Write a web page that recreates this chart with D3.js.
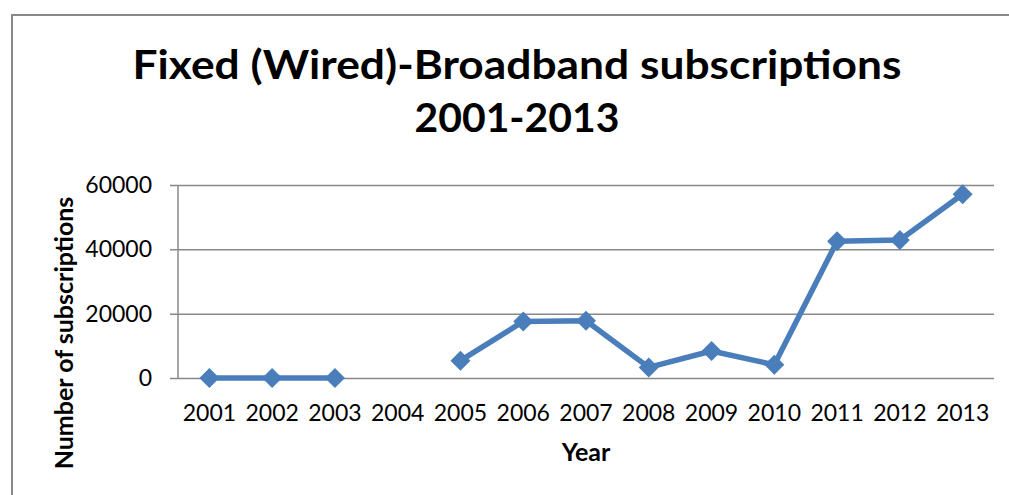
<!DOCTYPE html>
<html><head><meta charset="utf-8">
<script src="https://cdn.jsdelivr.net/npm/d3@7/dist/d3.min.js"></script>
<style>body{margin:0;background:#fff}svg{display:block}</style>
</head><body>
<svg id="chart" width="1009" height="495"></svg>
<script>
const years = ["2001","2002","2003","2004","2005","2006","2007","2008","2009","2010","2011","2012","2013"];
const subscriptions = [0, 0, 0, null, 5400, 17600, 17800, 3300, 8400, 4100, 42500, 42900, 57100];
const yTicks = [0, 20000, 40000, 60000];
const titleLines = ["Fixed (Wired)-Broadband subscriptions", "2001-2013"];
const xTitle = "Year";
const yTitle = "Number of subscriptions";

(function () {
const svg = d3.select("#chart");
const pLeft = 178, pRight = 994, pTop = 185, pBottom = 378;

svg.append("rect").attr("x", 12).attr("y", 15).attr("width", 1020).attr("height", 500)
  .attr("fill", "#fff").attr("stroke", "#888").attr("stroke-width", 2);

const x = d3.scaleBand().domain(years).range([pLeft, pRight]);
const y = d3.scaleLinear().domain([0, 60000]).range([pBottom, pTop]);

const tf = "Lato, Carlito, sans-serif";
const titleWidths = [769, 205];
svg.append("g").selectAll("text").data(titleLines).join("text")
  .attr("x", 517).attr("y", (d, i) => 79 + i * 53)
  .attr("text-anchor", "middle").attr("font-family", tf).attr("font-weight", "bold")
  .attr("font-size", 40).attr("fill", "#000")
  .attr("textLength", (d, i) => titleWidths[i]).attr("lengthAdjust", "spacingAndGlyphs")
  .text(d => d);

const yAxis = d3.axisLeft(y).tickValues(yTicks).tickSize(-(pRight - pLeft)).tickPadding(26).tickFormat(d3.format("d"));
const gy = svg.append("g").attr("transform", `translate(${pLeft},0)`).call(yAxis);
gy.select(".domain").remove();
gy.selectAll(".tick line").attr("stroke", "#888").attr("stroke-width", 1.5).attr("x1", -8);
gy.selectAll(".tick text").attr("font-family", tf).attr("font-size", 23).attr("fill", "#000");

svg.append("line").attr("x1", pLeft).attr("x2", pLeft).attr("y1", y(60000)).attr("y2", y(0))
  .attr("stroke", "#888").attr("stroke-width", 1.5);

const xAxis = d3.axisBottom(x).tickSize(0).tickPadding(27);
const gx = svg.append("g").attr("transform", `translate(0,${pBottom})`).call(xAxis);
gx.select(".domain").remove();
gx.selectAll(".tick text").attr("font-family", tf).attr("font-size", 23).attr("fill", "#000");

const pts = years.map((yr, i) => ({yr, v: subscriptions[i]}));
const line = d3.line().defined(d => d.v !== null).x(d => x(d.yr) + x.bandwidth() / 2).y(d => y(d.v));
svg.append("path").datum(pts).attr("d", line).attr("fill", "none")
  .attr("stroke", "#4A7EBB").attr("stroke-width", 5.5).attr("stroke-linejoin", "round");

svg.append("g").selectAll("path").data(pts.filter(d => d.v !== null)).join("path")
  .attr("d", d3.symbol().type(d3.symbolSquare).size(200))
  .attr("transform", d => `translate(${x(d.yr) + x.bandwidth() / 2},${y(d.v)}) rotate(45)`)
  .attr("fill", "#4A7EBB");

svg.append("text").attr("x", 586).attr("y", 461).attr("text-anchor", "middle")
  .attr("font-family", tf).attr("font-weight", "bold").attr("font-size", 25).text(xTitle);
svg.append("text").attr("transform", "translate(73,333) rotate(-90)").attr("text-anchor", "middle")
  .attr("font-family", tf).attr("font-weight", "bold").attr("font-size", 25).text(yTitle);
})();
</script>
</body></html>
